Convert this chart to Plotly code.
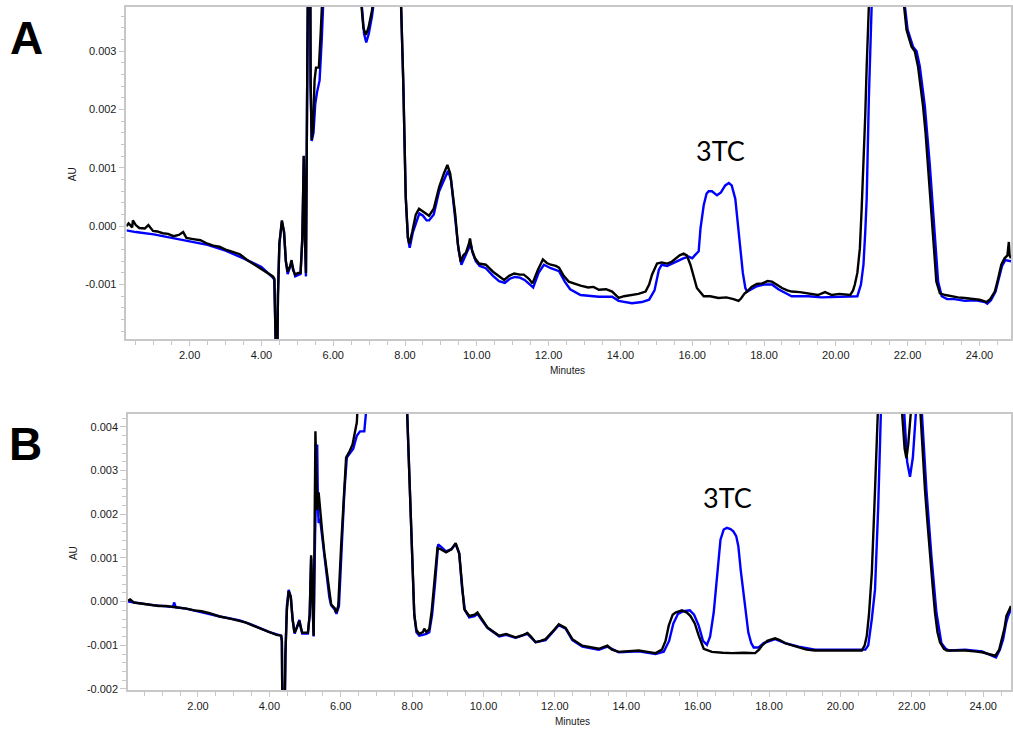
import plotly.graph_objects as go

# ---------------- Panel A data (minutes, AU) ----------------
tA_blue = [0.24, 0.5, 1.0, 1.5, 2.0, 2.5, 3.0, 3.5, 4.0, 4.32, 4.36, 4.38, 4.43, 4.46, 4.5, 4.57, 4.63, 4.68,
           4.73, 4.84, 4.94, 5.09, 5.14, 5.18, 5.21, 5.24, 5.27, 5.30, 5.34, 5.37, 5.40, 5.45, 5.50, 5.55, 5.62,
           5.68, 5.73, 6.0, 6.78, 6.86, 6.92, 6.99, 7.08, 7.16, 7.5, 7.88, 7.95, 8.02, 8.08, 8.13, 8.22, 8.32,
           8.40, 8.50, 8.60, 8.67, 8.80, 8.95, 9.08, 9.20, 9.28, 9.34, 9.42, 9.49, 9.57, 9.65, 9.75, 9.83, 9.88,
           9.97, 10.08, 10.25, 10.45, 10.62, 10.78, 10.92, 11.06, 11.2, 11.33, 11.47, 11.57, 11.72, 11.87, 12.06,
           12.29, 12.45, 12.60, 12.89, 13.10, 13.40, 13.77, 13.95, 14.32, 14.60, 14.80, 14.95, 15.07, 15.15, 15.3,
           15.43, 15.6, 15.75, 15.9, 16.0, 16.07, 16.18, 16.23, 16.32, 16.40, 16.46, 16.55, 16.69, 16.80, 16.92,
           17.02, 17.10, 17.20, 17.27, 17.34, 17.41, 17.48, 17.53, 17.65, 17.80, 18.00, 18.22, 18.40, 18.60, 18.77,
           19.0, 19.24, 19.6, 20.0, 20.4, 20.6, 20.70, 20.77, 20.82, 20.86, 20.92, 20.97, 21.05, 21.4, 21.90, 22.00,
           22.15, 22.25, 22.34, 22.48, 22.62, 22.76, 22.85, 22.95, 23.1, 23.3, 23.6, 23.9, 24.15, 24.22, 24.32,
           24.45, 24.55, 24.63, 24.72, 24.88]
yA_blue = [-0.00007, -0.0001, -0.00014, -0.0002, -0.00025, -0.00032, -0.00042, -0.00055, -0.0007, -0.00088,
           -0.00092, -0.003, -0.003, -0.0012, -0.0003, 0.00008, -0.0001, -0.0006, -0.00082, -0.00062, -0.00086,
           -0.00082, -0.0002, 0.0012, -0.0002, -0.00086, 0.002, 0.008, 0.008, 0.0024, 0.00146, 0.0016, 0.0021,
           0.0023, 0.0025, 0.0032, 0.0045, 0.008, 0.0039, 0.0033, 0.00315, 0.0033, 0.0036, 0.004, 0.008, 0.004,
           0.0025, 0.0005, -0.0002, -0.00037, -0.0001, 0.0001, 0.00022, 0.00018, 0.0001, 0.0001, 0.0002, 0.0006,
           0.0008, 0.00095, 0.0008, 0.0005, 0.0, -0.0004, -0.00066, -0.00055, -0.0004, -0.0003, -0.00045, -0.0006,
           -0.00068, -0.00072, -0.00085, -0.00094, -0.00097, -0.0009, -0.00087, -0.00088, -0.00092, -0.001,
           -0.00105, -0.0008, -0.00066, -0.00072, -0.00077, -0.00095, -0.00108, -0.00118, -0.00119, -0.00121,
           -0.00121, -0.00128, -0.00132, -0.0013, -0.00126, -0.0011, -0.00075, -0.00066, -0.00068, -0.00064,
           -0.0006, -0.00055, -0.00052, -0.00055, -0.0005, -0.00043, -0.00004, 0.00036, 0.00056, 0.0006, 0.0006,
           0.00053, 0.00058, 0.0007, 0.00074, 0.0007, 0.00047, 0.0, -0.00044, -0.0008, -0.00106, -0.00112,
           -0.00108, -0.00103, -0.001, -0.001, -0.00108, -0.00115, -0.0012, -0.0012, -0.0012, -0.00122, -0.00121,
           -0.0012, -0.0012, -0.001, -0.00066, -0.0001, 0.00047, 0.00218, 0.0035, 0.006, 0.012, 0.0039, 0.00337,
           0.00308, 0.003, 0.00274, 0.00206, 0.00104, -0.0001, -0.00095, -0.0012, -0.00125, -0.00125, -0.00128,
           -0.00127, -0.0013, -0.00133, -0.00127, -0.00112, -0.0009, -0.00068, -0.00058, -0.0006]

tA_black = [0.24, 0.30, 0.40, 0.42, 0.50, 0.60, 0.75, 0.85, 0.98, 1.10, 1.25, 1.40, 1.55, 1.70, 1.82, 1.91,
            2.10, 2.30, 2.50, 2.70, 2.83, 3.00, 3.20, 3.40, 3.60, 3.76, 3.90, 4.05, 4.20, 4.32, 4.36, 4.38, 4.43,
            4.46, 4.50, 4.57, 4.63, 4.68, 4.73, 4.80, 4.84, 4.88, 4.94, 5.02, 5.09, 5.14, 5.18, 5.21, 5.24, 5.27,
            5.30, 5.34, 5.37, 5.40, 5.44, 5.48, 5.52, 5.60, 5.65, 5.70, 6.0, 6.77, 6.84, 6.91, 6.98, 7.08, 7.14,
            7.5, 7.88, 7.95, 8.02, 8.08, 8.12, 8.20, 8.30, 8.39, 8.50, 8.60, 8.67, 8.80, 8.95, 9.08, 9.18, 9.26,
            9.32, 9.40, 9.47, 9.55, 9.62, 9.70, 9.78, 9.81, 9.86, 9.95, 10.06, 10.25, 10.45, 10.62, 10.76, 10.90,
            11.04, 11.20, 11.31, 11.45, 11.55, 11.70, 11.84, 11.95, 12.06, 12.20, 12.29, 12.42, 12.56, 12.70,
            12.89, 13.10, 13.25, 13.40, 13.60, 13.77, 13.90, 13.95, 14.10, 14.32, 14.50, 14.70, 14.80, 14.88,
            15.02, 15.15, 15.30, 15.43, 15.55, 15.65, 15.76, 15.85, 15.95, 16.05, 16.13, 16.32, 16.50, 16.73,
            16.95, 17.15, 17.29, 17.36, 17.45, 17.53, 17.65, 17.80, 17.95, 18.10, 18.22, 18.35, 18.50, 18.65,
            18.77, 19.00, 19.24, 19.50, 19.70, 19.89, 20.10, 20.40, 20.48, 20.53, 20.60, 20.67, 20.72, 20.77,
            20.82, 20.86, 20.90, 21.0, 21.4, 21.88, 21.97, 22.05, 22.11, 22.20, 22.29, 22.36, 22.43, 22.50, 22.57,
            22.64, 22.71, 22.76, 22.80, 22.90, 23.05, 23.22, 23.40, 23.59, 23.80, 24.00, 24.15, 24.20, 24.30,
            24.43, 24.52, 24.61, 24.70, 24.78, 24.82, 24.84, 24.88]
yA_black = [0.0, 0.00005, -0.00002, 0.0001, 0.00002, -0.00003, -0.00004, 0.00002, -0.00008, -0.00009, -0.00012,
            -0.00013, -0.00017, -0.00015, -0.0001, -0.0002, -0.00022, -0.00024, -0.0003, -0.00034, -0.00035,
            -0.0004, -0.00044, -0.00048, -0.00058, -0.00064, -0.0007, -0.00076, -0.00082, -0.00086, -0.0009,
            -0.003, -0.003, -0.0012, -0.0003, 0.0001, -0.0001, -0.0006, -0.00078, -0.00068, -0.00058, -0.00075,
            -0.00083, -0.0008, -0.0008, -0.0002, 0.00121, -0.0002, -0.0008, 0.002, 0.008, 0.008, 0.0025, 0.00148,
            0.0017, 0.0025, 0.00272, 0.00272, 0.0033, 0.0045, 0.008, 0.0039, 0.0034, 0.00328, 0.0034, 0.0037,
            0.004, 0.008, 0.004, 0.0025, 0.0005, -0.0002, -0.0003, -0.0001, 0.0002, 0.0003, 0.00025, 0.0002,
            0.00018, 0.0003, 0.00067, 0.0009, 0.00105, 0.0009, 0.0006, 0.0002, -0.0003, -0.00061, -0.0005,
            -0.00045, -0.0003, -0.00021, -0.0004, -0.00055, -0.00064, -0.00066, -0.00078, -0.00086, -0.00092,
            -0.00085, -0.00081, -0.00083, -0.00083, -0.0009, -0.00098, -0.00075, -0.00057, -0.00063, -0.00066,
            -0.00068, -0.00071, -0.00085, -0.00095, -0.00098, -0.00102, -0.00105, -0.00104, -0.00109, -0.00108,
            -0.00112, -0.0012, -0.00123, -0.0012, -0.00118, -0.00116, -0.00112, -0.001, -0.00083, -0.00064,
            -0.00062, -0.00064, -0.00061, -0.00055, -0.0005, -0.00047, -0.0005, -0.00066, -0.0009, -0.00106,
            -0.0012, -0.0012, -0.00123, -0.00122, -0.00125, -0.00128, -0.00124, -0.00116, -0.00112, -0.00104,
            -0.00099, -0.00098, -0.00094, -0.00095, -0.001, -0.00106, -0.0011, -0.00112, -0.00113, -0.00115,
            -0.00118, -0.00113, -0.00118, -0.00116, -0.00118, -0.0011, -0.001, -0.0008, -0.00038, 0.0003, 0.00104,
            0.0019, 0.00274, 0.0038, 0.006, 0.012, 0.0039, 0.00337, 0.0032, 0.00308, 0.003, 0.00274, 0.0024,
            0.00206, 0.0016, 0.00104, 0.0005, -0.0001, -0.0006, -0.00095, -0.00115, -0.00118, -0.0012, -0.00122,
            -0.00123, -0.00124, -0.00126, -0.00129, -0.0013, -0.00125, -0.00112, -0.0009, -0.00066, -0.00055,
            -0.0005, -0.00027, -0.0005, -0.00055]

# ---------------- Panel B data (minutes, AU) ----------------
tB_blue = [0.04, 0.3, 0.74, 1.3, 1.33, 1.38, 1.67, 2.61, 3.17, 3.54, 4.0, 4.33, 4.35, 4.37, 4.42, 4.45, 4.49,
           4.54, 4.6, 4.65, 4.71, 4.84, 4.92, 5.08, 5.13, 5.17, 5.21, 5.24, 5.28, 5.31, 5.34, 5.36, 5.38, 5.42,
           5.48, 5.55, 5.62, 5.68, 5.73, 5.78, 5.83, 5.88, 5.95, 6.03, 6.10, 6.17, 6.25, 6.35, 6.45, 6.54, 6.66,
           6.76, 6.9, 7.6, 7.84, 7.92, 8.01, 8.06, 8.12, 8.20, 8.30, 8.40, 8.48, 8.56, 8.64, 8.73, 8.82, 8.95,
           9.10, 9.22, 9.32, 9.40, 9.48, 9.60, 9.75, 9.83, 9.95, 10.11, 10.44, 10.63, 10.90, 11.23, 11.46, 11.74,
           12.11, 12.30, 12.49, 12.77, 13.23, 13.47, 13.79, 14.35, 14.82, 15.05, 15.2, 15.32, 15.45, 15.60, 15.78,
           15.90, 16.03, 16.15, 16.26, 16.35, 16.45, 16.55, 16.64, 16.73, 16.82, 16.92, 17.0, 17.08, 17.14, 17.21,
           17.28, 17.35, 17.42, 17.50, 17.57, 17.71, 17.85, 18.17, 18.45, 18.83, 19.29, 19.94, 20.6, 20.70, 20.78,
           20.88, 20.97, 21.06, 21.14, 21.4, 21.79, 21.87, 21.95, 22.03, 22.13, 22.2, 22.27, 22.34, 22.41, 22.55,
           22.69, 22.83, 22.95, 23.05, 23.5, 23.97, 24.20, 24.36, 24.47, 24.56, 24.64, 24.70, 24.78]
yB_blue = [0.0, -0.00003, -0.00008, -0.00012, -0.00002, -0.00013, -0.00016, -0.00034, -0.00043, -0.00054, -0.0007,
           -0.00078, -0.0009, -0.003, -0.003, -0.0012, -0.0001, 0.00027, 0.00012, -0.0004, -0.00073, -0.00042,
           -0.00073, -0.00073, -0.0003, 0.001, -0.0002, -0.0008, 0.0015, 0.0028, 0.0036, 0.0022, 0.0018, 0.0019,
           0.0015, 0.0011, 0.0006, 0.0001, -0.00008, -0.00012, -0.00018, -0.00028, -0.0001, 0.0013, 0.0025,
           0.0033, 0.0034, 0.0035, 0.0038, 0.0039, 0.0039, 0.0048, 0.008, 0.008, 0.0048, 0.0029, 0.0006, -0.0003,
           -0.0007, -0.00078, -0.00076, -0.00074, -0.0007, -0.0003, 0.0004, 0.00131, 0.00125, 0.00115, 0.0012,
           0.00132, 0.0011, 0.0003, -0.0002, -0.00036, -0.00033, -0.00028, -0.00042, -0.0006, -0.0008, -0.00076,
           -0.00083, -0.00074, -0.00093, -0.00088, -0.00054, -0.00062, -0.00088, -0.00103, -0.0011, -0.00103,
           -0.00116, -0.00114, -0.0012, -0.00115, -0.0009, -0.0005, -0.00028, -0.00022, -0.0002, -0.0003,
           -0.00055, -0.0009, -0.00099, -0.0008, -0.00025, 0.0006, 0.00142, 0.00165, 0.00169, 0.00166, 0.00161,
           0.0015, 0.00127, 0.0007, 0.0002, -0.0003, -0.00071, -0.00095, -0.00105, -0.00105, -0.00095, -0.00086,
           -0.00095, -0.00103, -0.0011, -0.0011, -0.0011, -0.0011, -0.001, -0.0004, 0.00028, 0.00218, 0.0045,
           0.01, 0.0043, 0.0032, 0.00286, 0.0033, 0.0045, 0.008, 0.0045, 0.0035, 0.00256, 0.00104, -0.00025,
           -0.00095, -0.00108, -0.00112, -0.0011, -0.00114, -0.00122, -0.00128, -0.0011, -0.00086, -0.0005,
           -0.00033, -0.00017]

tB_black = [0.04, 0.1, 0.2, 0.35, 0.5, 0.74, 0.9, 1.1, 1.3, 1.5, 1.67, 1.9, 2.1, 2.3, 2.61, 2.9, 3.17, 3.35,
            3.54, 3.75, 4.0, 4.2, 4.33, 4.35, 4.37, 4.42, 4.45, 4.49, 4.54, 4.6, 4.65, 4.70, 4.77, 4.84, 4.88,
            4.92, 5.08, 5.13, 5.17, 5.21, 5.24, 5.27, 5.29, 5.32, 5.34, 5.38, 5.42, 5.48, 5.54, 5.62, 5.68, 5.73,
            5.78, 5.83, 5.87, 5.93, 6.01, 6.08, 6.15, 6.25, 6.33, 6.45, 6.52, 6.7, 7.6, 7.84, 7.92, 8.01, 8.06,
            8.12, 8.20, 8.30, 8.34, 8.40, 8.48, 8.55, 8.62, 8.71, 8.80, 8.95, 9.10, 9.22, 9.32, 9.40, 9.46, 9.60,
            9.75, 9.83, 9.95, 10.11, 10.3, 10.44, 10.63, 10.90, 11.10, 11.23, 11.33, 11.46, 11.6, 11.74, 11.92,
            12.11, 12.30, 12.49, 12.77, 13.0, 13.23, 13.47, 13.6, 13.79, 14.1, 14.35, 14.6, 14.82, 15.0, 15.1,
            15.19, 15.30, 15.38, 15.56, 15.70, 15.80, 15.92, 16.03, 16.17, 16.4, 16.7, 16.96, 17.3, 17.61, 17.72,
            17.8, 17.95, 18.17, 18.30, 18.45, 18.65, 18.83, 19.05, 19.29, 19.6, 19.94, 20.3, 20.60, 20.68, 20.74,
            20.80, 20.88, 20.97, 21.03, 21.3, 21.73, 21.80, 21.85, 21.90, 21.99, 22.1, 22.23, 22.30, 22.37, 22.44,
            22.51, 22.58, 22.65, 22.72, 22.79, 22.90, 22.98, 23.2, 23.5, 23.75, 23.97, 24.15, 24.34, 24.45, 24.53,
            24.60, 24.65, 24.74, 24.78]
yB_black = [0.00002, 0.00005, -0.00002, -0.00004, -0.00006, -0.00008, -0.0001, -0.0001, -0.00012, -0.00014,
            -0.00016, -0.0002, -0.00022, -0.00026, -0.00034, -0.00039, -0.00044, -0.00048, -0.00055, -0.00062,
            -0.00071, -0.00076, -0.00078, -0.0009, -0.003, -0.003, -0.0012, -0.0002, 0.00024, 0.0001, -0.0004,
            -0.00071, -0.0006, -0.00044, -0.0006, -0.00071, -0.00071, -0.0003, 0.00106, -0.0002, -0.00078, 0.002,
            0.0039, 0.0028, 0.0021, 0.0025, 0.0022, 0.0016, 0.00112, 0.0006, 0.00013, -0.00006, -0.00011,
            -0.00015, -0.00025, -0.0001, 0.00127, 0.0024, 0.0033, 0.00345, 0.0036, 0.0041, 0.0048, 0.008, 0.008,
            0.0048, 0.00294, 0.00066, -0.0003, -0.00065, -0.00074, -0.0007, -0.00062, -0.0007, -0.00063, -0.0002,
            0.00043, 0.00123, 0.0012, 0.00113, 0.0012, 0.00134, 0.0011, 0.0003, -0.00017, -0.00033, -0.0003,
            -0.00025, -0.0004, -0.00059, -0.0007, -0.00078, -0.00074, -0.00082, -0.00077, -0.00072, -0.0008,
            -0.00093, -0.0009, -0.00086, -0.0007, -0.00052, -0.0006, -0.00086, -0.00101, -0.00105, -0.00108,
            -0.00101, -0.0011, -0.00115, -0.00113, -0.00112, -0.00115, -0.00118, -0.0011, -0.0009, -0.00055,
            -0.0003, -0.00025, -0.0002, -0.00025, -0.00033, -0.0005, -0.00078, -0.00108, -0.00115, -0.00117,
            -0.00118, -0.00117, -0.00118, -0.0011, -0.00101, -0.0009, -0.00084, -0.00088, -0.00095, -0.001,
            -0.00105, -0.0011, -0.00112, -0.00112, -0.00112, -0.00111, -0.00112, -0.001, -0.00078, -0.0003,
            0.00066, 0.00256, 0.0045, 0.01, 0.0043, 0.0035, 0.00328, 0.0036, 0.0045, 0.008, 0.0045, 0.0035,
            0.00256, 0.0018, 0.00104, 0.0004, -0.00025, -0.0007, -0.00093, -0.00108, -0.00112, -0.00112, -0.00112,
            -0.00114, -0.00116, -0.0012, -0.00124, -0.0011, -0.00086, -0.0006, -0.00033, -0.00017, -0.0001]

# ---------------- axis ticks ----------------
x_tickvals = [2, 4, 6, 8, 10, 12, 14, 16, 18, 20, 22, 24]
x_ticktext = ["2.00", "4.00", "6.00", "8.00", "10.00", "12.00", "14.00", "16.00", "18.00", "20.00", "22.00", "24.00"]
yA_tickvals = [-0.001, 0.0, 0.001, 0.002, 0.003]
yA_ticktext = ["-0.001", "0.000", "0.001", "0.002", "0.003"]
yB_tickvals = [-0.002, -0.001, 0.0, 0.001, 0.002, 0.003, 0.004]
yB_ticktext = ["-0.002", "-0.001", "0.000", "0.001", "0.002", "0.003", "0.004"]

W, H = 1013, 733  # reference picture size (used to place things in paper fractions)
BLUE = "#0000ff"
AXC = "#c8c8c8"
TICKFONT = dict(family="Liberation Sans, Arial, sans-serif", size=11, color="#1a1a1a")
LW = 2.4

fig = go.Figure()
fig.add_trace(go.Scatter(x=tA_blue, y=yA_blue, mode="lines", line=dict(color=BLUE, width=LW),
                         xaxis="x", yaxis="y", showlegend=False, hoverinfo="skip"))
fig.add_trace(go.Scatter(x=tA_black, y=yA_black, mode="lines", line=dict(color="#000000", width=LW),
                         xaxis="x", yaxis="y", showlegend=False, hoverinfo="skip"))
fig.add_trace(go.Scatter(x=tB_blue, y=yB_blue, mode="lines", line=dict(color=BLUE, width=LW),
                         xaxis="x2", yaxis="y2", showlegend=False, hoverinfo="skip"))
fig.add_trace(go.Scatter(x=tB_black, y=yB_black, mode="lines", line=dict(color="#000000", width=LW),
                         xaxis="x2", yaxis="y2", showlegend=False, hoverinfo="skip"))


def xaxis_cfg(domain, rng, anchor):
    return dict(domain=domain, range=rng, anchor=anchor, tickmode="array", tickvals=x_tickvals,
                ticktext=x_ticktext, ticks="outside", ticklen=5, tickcolor=AXC, tickwidth=1,
                showline=True, linecolor=AXC, linewidth=1.5, mirror=True, showgrid=False, zeroline=False,
                tickfont=TICKFONT,
                minor=dict(tickmode="linear", tick0=0, dtick=0.5, ticks="outside", ticklen=4,
                           tickcolor=AXC, tickwidth=1, showgrid=False))


def yaxis_cfg(domain, rng, anchor, tv, tt):
    return dict(domain=domain, range=rng, anchor=anchor, tickmode="array", tickvals=tv, ticktext=tt,
                ticks="outside", ticklen=6, tickcolor=AXC, tickwidth=1,
                showline=True, linecolor=AXC, linewidth=1.5, mirror=True, showgrid=False, zeroline=False,
                tickfont=TICKFONT,
                minor=dict(tickmode="linear", tick0=0, dtick=0.0002, ticks="outside", ticklen=4,
                           tickcolor=AXC, tickwidth=1, showgrid=False))


def px(x):
    return min(1.0, max(0.0, x / W))


def py(y):
    return min(1.0, max(0.0, 1 - y / H))


fig.update_layout(
    autosize=True, margin=dict(l=0, r=0, t=0, b=0),
    paper_bgcolor="white", plot_bgcolor="white",
    xaxis=xaxis_cfg([px(126.7), 1.0], [0.24, 24.88], "y"),
    yaxis=yaxis_cfg([py(341.7), py(7)], [-0.00194, 0.00376], "x", yA_tickvals, yA_ticktext),
    xaxis2=xaxis_cfg([px(128.3), 1.0], [0.04, 24.78], "y2"),
    yaxis2=yaxis_cfg([py(695), py(416.7)], [-0.00203, 0.0043], "x2", yB_tickvals, yB_ticktext),
)

ann = []
LBL = dict(family="Liberation Sans, Arial, sans-serif", size=46, color="black")
ann.append(dict(text="<b>A</b>", x=px(27), y=py(38), font=LBL))
ann.append(dict(text="<b>B</b>", x=px(26), y=py(447), font=LBL))
TC = dict(family="Lato, Open Sans, sans-serif", size=27, color="black")
ann.append(dict(text="3TC", x=px(722), y=py(151.7), font=TC))
ann.append(dict(text="3TC", x=px(728.7), y=py(501), font=TC))
SM = dict(family="Liberation Sans, Arial, sans-serif", size=10, color="#1a1a1a")
ann.append(dict(text="AU", x=px(72.5), y=py(175), font=SM, textangle=-90))
ann.append(dict(text="AU", x=px(73), y=py(557), font=SM, textangle=-90))
ann.append(dict(text="Minutes", x=px(568.5), y=py(373), font=SM))
ann.append(dict(text="Minutes", x=px(574), y=py(726.7), font=SM))
for a in ann:
    a.update(xref="paper", yref="paper", xanchor="center", yanchor="middle", showarrow=False)
fig.update_layout(annotations=ann)

# The figure fills the browser viewport; the default 8px body margin is removed.
fig.write_html("out.html", default_width="100vw", default_height="100vh",
               config={"displayModeBar": False, "responsive": True},
               post_script="document.body.style.margin='0';document.body.style.overflow='hidden';"
                           "document.documentElement.style.overflow='hidden';")
